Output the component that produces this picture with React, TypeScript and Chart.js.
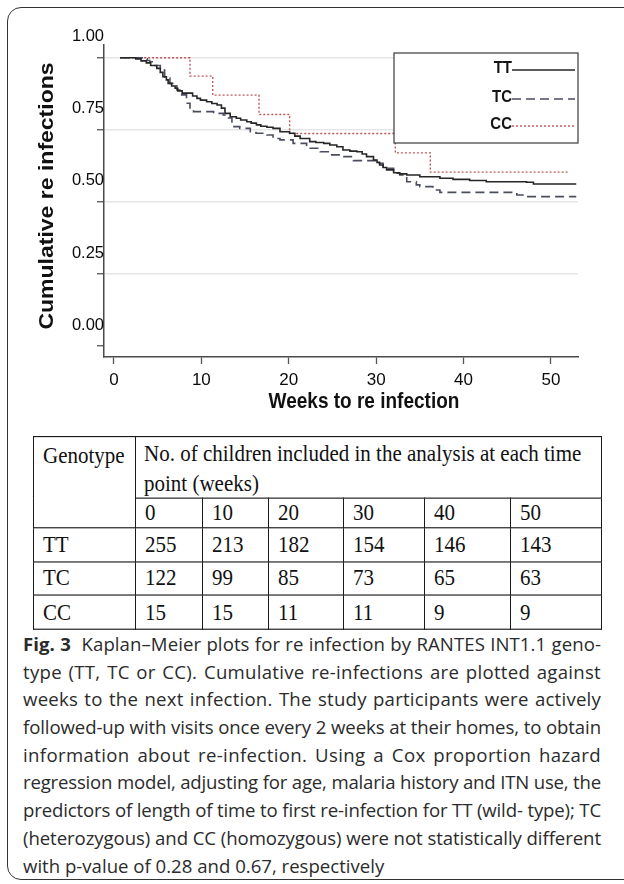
import React, { useEffect, useLayoutEffect, useRef } from 'react';
import { Chart, registerables } from 'chart.js';

Chart.register(...registerables);

// ---------- data ----------
const seriesNames = ['TT', 'TC', 'CC'];

const ttWeeks = [0.7, 2.5, 3.1, 3.7, 4.2, 4.9, 5.3, 5.6, 6.0, 6.2, 6.6, 7.0, 7.3, 7.8, 9.0, 9.5, 9.9, 10.6, 11.2, 11.8, 12.3, 12.7, 13.3, 14.0, 14.5, 15.2, 15.7, 16.3, 16.8, 17.5, 18.2, 19.0, 20.1, 20.7, 21.3, 22.4, 23.1, 24.0, 24.7, 25.5, 26.2, 27.0, 27.8, 28.4, 28.9, 29.7, 30.1, 30.4, 30.8, 31.2, 32.0, 32.7, 33.5, 35.0, 37.3, 38.8, 40.7, 42.6, 47.2, 48.0, 52.9];
const ttSurv = [1.0, 0.996, 0.989, 0.982, 0.973, 0.963, 0.949, 0.934, 0.923, 0.911, 0.902, 0.894, 0.885, 0.877, 0.867, 0.859, 0.853, 0.847, 0.841, 0.836, 0.825, 0.807, 0.795, 0.79, 0.784, 0.778, 0.773, 0.767, 0.762, 0.759, 0.755, 0.743, 0.738, 0.728, 0.72, 0.709, 0.706, 0.703, 0.697, 0.691, 0.68, 0.676, 0.674, 0.666, 0.657, 0.645, 0.637, 0.628, 0.619, 0.611, 0.601, 0.597, 0.593, 0.587, 0.582, 0.578, 0.574, 0.57, 0.568, 0.562, 0.562];

const tcWeeks = [0.7, 3.35, 3.8, 4.1, 4.7, 5.3, 5.8, 6.4, 7.2, 7.75, 8.3, 8.7, 9.1, 11.4, 12.5, 12.8, 13.5, 14.4, 15.6, 16.25, 17.5, 18.2, 19.0, 20.5, 22.05, 23.6, 24.7, 26.2, 27.4, 30.1, 30.8, 32.0, 32.7, 33.5, 34.6, 35.0, 36.5, 37.3, 46.1, 46.8, 52.9];
const tcSurv = [1.0, 0.996, 0.99, 0.986, 0.973, 0.957, 0.929, 0.911, 0.888, 0.871, 0.842, 0.819, 0.813, 0.807, 0.801, 0.791, 0.761, 0.755, 0.743, 0.738, 0.732, 0.72, 0.715, 0.703, 0.686, 0.674, 0.663, 0.657, 0.643, 0.634, 0.616, 0.599, 0.593, 0.57, 0.559, 0.553, 0.541, 0.533, 0.524, 0.518, 0.518];

const ccWeeks = [0.7, 8.7, 11.3, 16.6, 20.1, 32.2, 36.2, 52.0];
const ccSurv = [1.0, 0.936, 0.87, 0.803, 0.737, 0.67, 0.603, 0.603];

const xTicks = [0, 10, 20, 30, 40, 50];
const yTicks = [0, 0.25, 0.5, 0.75, 1.0];
const xTitle = 'Weeks to re infection';
const yTitle = 'Cumulative re infections';

const tableWeeks = ['0', '10', '20', '30', '40', '50'];
const tableGenotypes = ['TT', 'TC', 'CC'];
const tableTT = [255, 213, 182, 154, 146, 143];
const tableTC = [122, 99, 85, 73, 65, 63];
const tableCC = [15, 15, 11, 11, 9, 9];
const tableRows = [tableTT, tableTC, tableCC];

const captionLines = [
  'Kaplan–Meier plots for re infection by RANTES INT1.1 geno-',
  'type (TT, TC or CC). Cumulative re-infections are plotted against',
  'weeks to the next infection. The study participants were actively',
  'followed-up with visits once every 2 weeks at their homes, to obtain',
  'information about re-infection. Using a Cox proportion hazard',
  'regression model, adjusting for age, malaria history and ITN use, the',
  'predictors of length of time to first re-infection for TT (wild- type); TC',
  '(heterozygous) and CC (homozygous) were not statistically different',
  'with p-value of 0.28 and 0.67, respectively',
];

const zip = (xs: number[], ys: number[]) => xs.map((x, i) => ({ x, y: ys[i] }));

const extrasPlugin = {
  id: 'kmExtras',
  afterDatasetsDraw(chart: any) {
    const { ctx, chartArea } = chart;
    const L = chartArea.left + 290;
    const T = chartArea.top + 8;
    const R = chartArea.right;
    const B = T + 90;
    ctx.save();
    ctx.fillStyle = '#ffffff';
    ctx.fillRect(L, T, R - L, B - T);
    ctx.strokeStyle = '#3a3a3a';
    ctx.lineWidth = 1.2;
    ctx.strokeRect(L, T, R - L, B - T);
    const rowY = [17, 46, 73];
    chart.data.datasets.forEach((ds: any, i: number) => {
      const y = T + rowY[i];
      ctx.save();
      ctx.strokeStyle = ds.borderColor;
      ctx.lineWidth = ds.borderWidth;
      ctx.setLineDash(ds.borderDash || []);
      ctx.beginPath();
      ctx.moveTo(R - 66, y);
      ctx.lineTo(R - 3, y);
      ctx.stroke();
      ctx.restore();
      ctx.save();
      ctx.translate(R - 66, y - 2);
      ctx.scale(1, 1.15);
      ctx.font = 'bold 15px "Liberation Sans", Arial, sans-serif';
      ctx.fillStyle = '#151515';
      ctx.textAlign = 'right';
      ctx.textBaseline = 'middle';
      ctx.fillText(ds.label, 0, 0);
      ctx.restore();
    });
    ctx.restore();
  },
  afterDraw(chart: any) {
    const { ctx, chartArea } = chart;
    ctx.save();
    ctx.fillStyle = '#111';
    ctx.font = 'bold 19px "Liberation Sans", Arial, sans-serif';
    ctx.textAlign = 'center';
    ctx.textBaseline = 'middle';
    ctx.translate(chartArea.left + 260, chartArea.bottom + 45);
    ctx.scale(1, 1.15);
    ctx.fillText(xTitle, 0, 0);
    ctx.restore();

    ctx.save();
    ctx.fillStyle = '#111';
    ctx.font = 'bold 20px "Liberation Sans", Arial, sans-serif';
    ctx.textAlign = 'center';
    ctx.textBaseline = 'middle';
    ctx.translate(chartArea.left - 57, chartArea.top + 151);
    ctx.rotate(-Math.PI / 2);
    ctx.scale(1.15, 1);
    ctx.fillText(yTitle, 0, 0);
    ctx.restore();
  },
};

function KMChart() {
  const ref = useRef<HTMLCanvasElement | null>(null);
  useEffect(() => {
    if (!ref.current) return;
    const tickFamily = '"Liberation Sans Narrow", "Liberation Sans", Arial, sans-serif';
    const chart = new Chart(ref.current, {
      type: 'line',
      data: {
        datasets: [
          { label: seriesNames[0], data: zip(ttWeeks, ttSurv), borderColor: '#262626', borderWidth: 1.6, stepped: true, pointRadius: 0, fill: false },
          { label: seriesNames[1], data: zip(tcWeeks, tcSurv), borderColor: '#4a4d5e', borderWidth: 1.6, borderDash: [9, 5], stepped: true, pointRadius: 0, fill: false },
          { label: seriesNames[2], data: zip(ccWeeks, ccSurv), borderColor: '#c0575a', borderWidth: 1.4, borderDash: [2, 2], stepped: true, pointRadius: 0, fill: false },
        ],
      },
      options: {
        responsive: false,
        animation: false,
        devicePixelRatio: 1,
        layout: { padding: { left: 0, top: 45, right: 46, bottom: 0 } },
        plugins: { legend: { display: false }, tooltip: { enabled: false } },
        scales: {
          x: {
            type: 'linear',
            min: -1.14,
            max: 53.1,
            afterFit: (s: any) => { s.height = 73; },
            afterBuildTicks: (s: any) => { s.ticks = xTicks.map((v) => ({ value: v })); },
            grid: { display: true, drawOnChartArea: false, drawTicks: true, tickLength: 7, tickColor: '#555', tickWidth: 1.3 },
            border: { display: true, color: '#4a4a4a', width: 1.5 },
            ticks: { font: { family: tickFamily, size: 17 }, color: '#0a0a0a', padding: 6, maxRotation: 0 },
          },
          y: {
            type: 'linear',
            min: -0.038,
            max: 1.044,
            afterFit: (s: any) => { s.width = 104; },
            afterBuildTicks: (s: any) => { s.ticks = yTicks.map((v) => ({ value: v })); },
            grid: {
              display: true,
              drawOnChartArea: true,
              drawTicks: true,
              tickLength: 7,
              tickColor: '#555',
              tickWidth: 1.3,
              lineWidth: 1.5,
              color: (c: any) => (c.tick && c.tick.value === 0 ? 'rgba(0,0,0,0)' : '#e6e6e6'),
            },
            border: { display: true, color: '#4a4a4a', width: 1.5 },
            ticks: {
              font: { family: tickFamily, size: 16.5 },
              color: '#0a0a0a',
              padding: -7,
              labelOffset: -21,
              callback: (v: any) => Number(v).toFixed(2),
            },
          },
        },
      },
      plugins: [extrasPlugin],
    } as any);
    return () => chart.destroy();
  }, []);
  return <canvas ref={ref} width={624} height={430} style={{ position: 'absolute', left: 0, top: 0, width: 624, height: 430 }} />;
}

function CaptionLine({ children, justify }: { children: React.ReactNode; justify: boolean }) {
  const divRef = useRef<HTMLDivElement | null>(null);
  const spanRef = useRef<HTMLSpanElement | null>(null);
  useLayoutEffect(() => {
    const d = divRef.current;
    const s = spanRef.current;
    if (!d || !s) return;
    const W = d.clientWidth;
    const prev = d.style.textAlignLast;
    d.style.textAlignLast = 'left';
    const w = s.getBoundingClientRect().width;
    d.style.textAlignLast = prev;
    const n = (s.textContent || '').length || 1;
    if (w > W + 0.5) {
      d.style.letterSpacing = ((W - w) / n).toFixed(3) + 'px';
    } else if (justify) {
      d.style.letterSpacing = (((W - w) * 0.55) / n).toFixed(3) + 'px';
    }
  }, []);
  return (
    <div
      ref={divRef}
      style={{
        height: 27.7,
        lineHeight: '27.7px',
        whiteSpace: 'nowrap',
        textAlign: 'justify',
        textAlignLast: justify ? 'justify' : 'left',
      } as React.CSSProperties}
    >
      <span ref={spanRef}>{children}</span>
    </div>
  );
}

const colWidths = [102, 67, 66, 75, 81, 86, 91];
const cellBase: React.CSSProperties = {
  border: '1.3px solid #1a1a1a',
  padding: '0 0 0 9px',
  verticalAlign: 'middle',
  whiteSpace: 'nowrap',
  overflow: 'hidden',
};

export default function App() {
  return (
    <div style={{ position: 'absolute', left: 0, top: 0, width: 624, height: 884, overflow: 'hidden', background: '#fff' }}>
      <div style={{ position: 'absolute', left: 7, top: 7, width: 700, height: 873, border: '1.5px solid #333', borderRadius: 14, boxSizing: 'border-box' }} />
      <KMChart />
      <div style={{ position: 'absolute', left: 33, top: 436, width: 568, transform: 'scaleY(1.14)', transformOrigin: 'top left' }}>
        <table style={{ borderCollapse: 'collapse', width: 568, tableLayout: 'fixed', fontFamily: '"Liberation Serif", "Times New Roman", serif', fontSize: 21, color: '#111', lineHeight: 1 }}>
          <colgroup>
            {colWidths.map((w, i) => <col key={i} style={{ width: w }} />)}
          </colgroup>
          <tbody>
            <tr style={{ height: 54 }}>
              <td rowSpan={2} style={{ ...cellBase, verticalAlign: 'top', paddingTop: 6 }}>Genotype</td>
              <td colSpan={6} style={{ ...cellBase, lineHeight: '26px', paddingTop: 1, paddingLeft: 8 }}>
                No. of children included in the analysis at each time<br />point (weeks)
              </td>
            </tr>
            <tr style={{ height: 26 }}>
              {tableWeeks.map((w) => <td key={w} style={cellBase}>{w}</td>)}
            </tr>
            {tableRows.map((row, ri) => (
              <tr key={ri} style={{ height: 29.5 }}>
                <td style={cellBase}>{tableGenotypes[ri]}</td>
                {row.map((v, ci) => <td key={ci} style={cellBase}>{v}</td>)}
              </tr>
            ))}
          </tbody>
        </table>
      </div>
      <div style={{ position: 'absolute', left: 23, top: 630, width: 578, fontFamily: '"Open Sans", "Noto Sans", sans-serif', fontSize: 18.6, color: '#2b2b2b' }}>
        {captionLines.map((line, i) => (
          <CaptionLine key={i} justify={i < captionLines.length - 1}>
            {i === 0 ? (<><b>Fig. 3</b>{'\u00a0\u00a0'}{line}</>) : line}
          </CaptionLine>
        ))}
      </div>
    </div>
  );
}
